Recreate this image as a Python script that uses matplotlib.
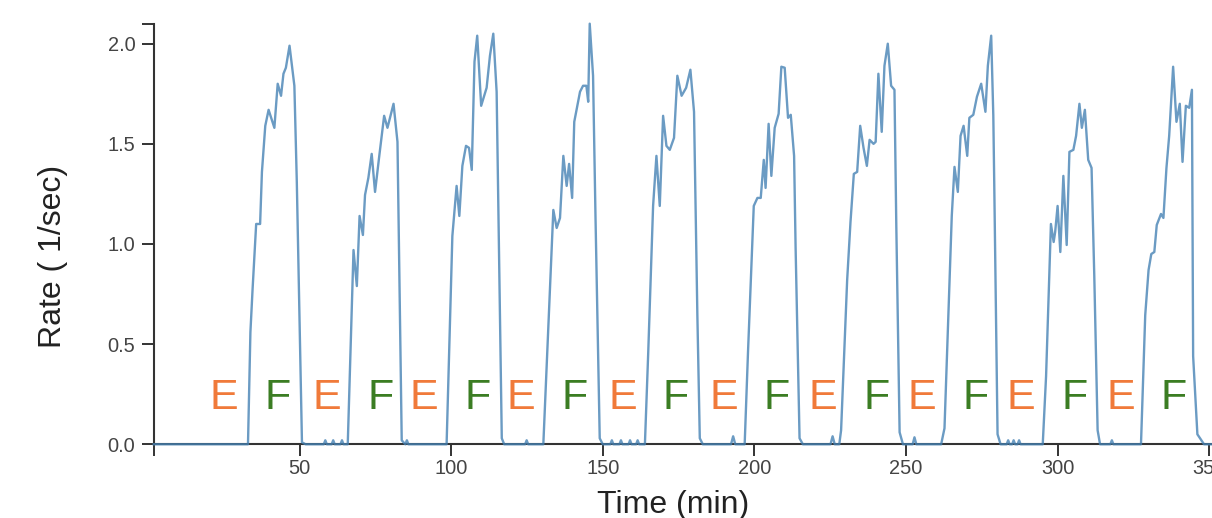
import matplotlib
matplotlib.use('Agg')
import matplotlib.pyplot as plt

plt.rcParams['font.family'] = ['Liberation Sans', 'DejaVu Sans']

# ---- data ----
cycle0_t = [1.9, 10, 20, 30, 33.0]
cycle0_r = [0.0, 0.0, 0.0, 0.0, 0.0]

cycle1_t = [33.8, 34.5, 35.7, 37.0, 37.6, 38.7, 39.8, 41.7, 42.8, 43.9, 44.7, 45.5, 46.7, 47.5, 48.3, 49.1, 50.8,
            52, 58.0, 58.5, 59.0, 60.6, 61.1, 61.6, 63.5, 64.0, 64.5, 65.9]
cycle1_r = [0.56, 0.77, 1.10, 1.10, 1.36, 1.59, 1.67, 1.58, 1.80, 1.74, 1.85, 1.88, 1.99, 1.89, 1.79, 1.31, 0.01,
            0.0, 0.0, 0.02, 0.0, 0.0, 0.02, 0.0, 0.0, 0.02, 0.0, 0.0]

cycle2_t = [67.8, 68.9, 69.8, 70.9, 71.6, 72.7, 73.8, 74.9, 76.3, 77.9, 79.0, 81.0, 82.3, 83.7,
            84.9, 85.4, 85.9, 98.5]
cycle2_r = [0.97, 0.79, 1.14, 1.045, 1.245, 1.33, 1.45, 1.26, 1.44, 1.64, 1.58, 1.70, 1.51, 0.02,
            0.0, 0.02, 0.0, 0.0]

cycle3_t = [100.4, 101.8, 102.7, 103.7, 104.9, 105.9, 106.8, 107.7, 108.6, 109.9, 111.7, 112.8, 113.9, 115.0,
            115.6, 116.7, 117.5, 124.4, 124.9, 125.4, 130.4]
cycle3_r = [1.04, 1.29, 1.14, 1.39, 1.49, 1.48, 1.37, 1.91, 2.04, 1.69, 1.78, 1.94, 2.05, 1.76,
            1.14, 0.03, 0.0, 0.0, 0.02, 0.0, 0.0]

cycle4_t = [133.7, 134.8, 135.9, 137.0, 138.1, 138.9, 139.9, 140.6, 142.5, 143.5, 144.6, 145.2, 145.7, 146.8,
            147.6, 149.0, 150, 152.5, 153.0, 153.5, 155.5, 156.0, 156.5, 158.5, 159.0, 159.5, 161.0, 161.5, 162.0,
            163.9]
cycle4_r = [1.17, 1.08, 1.13, 1.44, 1.29, 1.40, 1.23, 1.61, 1.76, 1.79, 1.79, 1.71, 2.10, 1.84,
            1.14, 0.03, 0.0, 0.0, 0.02, 0.0, 0.0, 0.02, 0.0, 0.0, 0.02, 0.0, 0.0, 0.02, 0.0,
            0.0]

cycle5_t = [165.0, 166.6, 167.7, 168.8, 169.9, 171.0, 172.1, 173.5, 174.6, 176.0, 177.5, 178.9, 180.1, 181.2,
            182.0, 183, 192.3, 193.0, 193.7, 196.8]
cycle5_r = [0.46, 1.19, 1.44, 1.19, 1.64, 1.49, 1.47, 1.53, 1.84, 1.74, 1.78, 1.87, 1.66, 0.645,
            0.03, 0.0, 0.0, 0.04, 0.0, 0.0]

cycle6_t = [197.9, 199.8, 201.0, 202.1, 203.1, 203.7, 204.7, 205.6, 206.7, 208.0, 208.9, 210.0, 211.1, 212.0,
            213.1, 213.6, 214.9, 216, 225.1, 225.8, 226.5, 228.0]
cycle6_r = [0.46, 1.19, 1.23, 1.23, 1.42, 1.28, 1.60, 1.34, 1.58, 1.65, 1.885, 1.88, 1.63, 1.645,
            1.44, 0.98, 0.03, 0.0, 0.0, 0.04, 0.0, 0.0]

cycle7_t = [228.6, 230.6, 231.7, 232.8, 233.9, 234.9, 236.0, 237.1, 238.0, 239.3, 240.0, 240.9, 242.0, 242.9,
            244.0, 245.1, 246.2, 246.8, 247.9, 249.0, 252.2, 252.8, 253.4, 261.6]
cycle7_r = [0.07, 0.82, 1.11, 1.35, 1.36, 1.59, 1.48, 1.39, 1.52, 1.50, 1.51, 1.85, 1.56, 1.89,
            2.00, 1.79, 1.77, 1.10, 0.06, 0.0, 0.0, 0.035, 0.0, 0.0]

cycle8_t = [262.7, 265.1, 266.0, 267.1, 268.0, 269.0, 270.2, 270.9, 272.2, 273.4, 274.8, 276.2, 277.0, 278.1,
            278.8, 279.1, 280.2, 281.2, 283.2, 283.7, 284.2, 285.0, 285.5, 286.0, 286.8, 287.3, 287.8, 295.1]
cycle8_r = [0.08, 1.14, 1.385, 1.26, 1.54, 1.59, 1.44, 1.63, 1.645, 1.735, 1.80, 1.66, 1.89, 2.04,
            1.64, 1.31, 0.05, 0.0, 0.0, 0.02, 0.0, 0.0, 0.02, 0.0, 0.0, 0.02, 0.0, 0.0]

cycle9_t = [296.2, 297.0, 297.8, 298.7, 299.2, 300.0, 300.9, 301.9, 303.0, 303.9, 305.2, 306.1, 307.2, 308.0,
            309.0, 310.1, 311.2, 312.1, 313.2, 314.0, 317.4, 317.9, 318.4, 327.5]
cycle9_r = [0.34, 0.72, 1.10, 1.01, 1.06, 1.19, 0.96, 1.34, 0.995, 1.46, 1.47, 1.54, 1.70, 1.58,
            1.67, 1.42, 1.38, 0.84, 0.07, 0.0, 0.0, 0.02, 0.0, 0.0]

cycle10_t = [328.9, 330.0, 330.9, 331.9, 332.7, 334.1, 334.9, 335.9, 336.8, 338.1, 339.2, 340.3, 341.2, 342.3,
             343.4, 344.3, 344.7, 346.1, 348.3, 352.0]
cycle10_r = [0.645, 0.87, 0.95, 0.96, 1.095, 1.15, 1.13, 1.38, 1.54, 1.885, 1.61, 1.70, 1.41, 1.69,
             1.68, 1.77, 0.44, 0.05, 0.0, 0.0]

time_min = (cycle0_t + cycle1_t + cycle2_t + cycle3_t + cycle4_t + cycle5_t +
            cycle6_t + cycle7_t + cycle8_t + cycle9_t + cycle10_t)
rate = (cycle0_r + cycle1_r + cycle2_r + cycle3_r + cycle4_r + cycle5_r +
        cycle6_r + cycle7_r + cycle8_r + cycle9_r + cycle10_r)

e_times = [24.9, 59.0, 91.1, 123.0, 156.5, 189.9, 222.6, 255.3, 288.0, 320.8]
f_times = [42.7, 76.6, 108.7, 140.7, 174.1, 207.5, 240.2, 272.9, 305.7, 338.3]
marker_level = 0.176

x_ticks = [50, 100, 150, 200, 250, 300, 350]
x_tick_labels = ['50', '100', '150', '200', '250', '300', '350']
y_ticks = [0.0, 0.5, 1.0, 1.5, 2.0]
y_tick_labels = ['0.0', '0.5', '1.0', '1.5', '2.0']
x_domain = (1.9, 352.0)
y_domain = (0.0, 2.1)

# ---- figure ----
fig = plt.figure(figsize=(12.12, 5.18), dpi=100)
ax = fig.add_axes([0.1268, 0.1423, 0.8759, 0.812])

ax.plot(time_min, rate, color='#4682b4', lw=1.7, alpha=0.8,
        solid_joinstyle='round', zorder=3, clip_on=False)

for x in e_times:
    ax.text(x, marker_level, 'E', color='#f07a3a', fontsize=31,
            ha='center', va='baseline')
for x in f_times:
    ax.text(x, marker_level, 'F', color='#3b7d23', fontsize=31,
            ha='center', va='baseline')

ax.set_xlim(*x_domain)
ax.set_ylim(*y_domain)

for s in ['top', 'right']:
    ax.spines[s].set_visible(False)
for s in ['left', 'bottom']:
    ax.spines[s].set_color('#333333')
    ax.spines[s].set_linewidth(1.5)

ax.set_xticks(x_ticks)
ax.set_xticklabels(x_tick_labels)
ax.set_yticks(y_ticks)
ax.set_yticklabels(y_tick_labels)

# outer (domain-end) ticks
ax.set_xticks([x_domain[0], x_domain[1]], minor=True)
ax.set_yticks([y_domain[1]], minor=True)

ax.tick_params(which='both', direction='out', length=8.6, width=1.4,
               color='#333333', labelsize=14.4, labelcolor='#444444')
ax.tick_params(axis='x', which='major', pad=1.8)
ax.tick_params(axis='y', which='major', pad=4.6)

fig.text(0.0437, 0.505, 'Rate ( 1/sec)', rotation=90, ha='center', va='center',
         fontsize=23, color='#222222')
fig.text(0.555, 0.0097, 'Time (min)', ha='center', va='baseline',
         fontsize=23, color='#222222')

fig.savefig('out.png', dpi=100)
